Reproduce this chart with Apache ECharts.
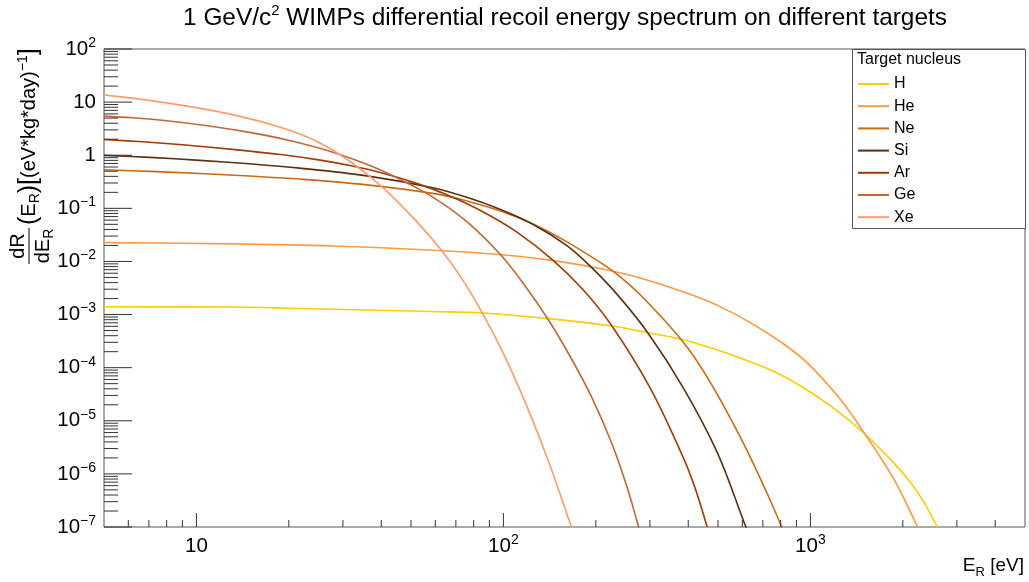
<!DOCTYPE html>
<html><head><meta charset="utf-8">
<script src="https://cdn.jsdelivr.net/npm/echarts@6/dist/echarts.min.js"></script>
<style>html,body{margin:0;padding:0;background:#fff;} #c{width:1029px;height:582px;}</style>
</head><body><div id="c"></div>
<script>
// ---- data ----
const names = ['H','He','Ne','Si','Ar','Ge','Xe'];
const hX  = [5, 13.1, 21.7, 35.9, 58.9, 85.7, 138.7, 226, 296, 382, 493, 637, 769, 927, 1169, 1476, 1862, 2118, 2333, 2593];
const hY  = [1.40e-3, 1.39e-3, 1.30e-3, 1.22e-3, 1.14e-3, 1.07e-3, 8.48e-4, 6.07e-4, 4.54e-4, 3.40e-4, 2.19e-4, 1.29e-4, 8.19e-5, 4.57e-5, 1.86e-5, 6.22e-6, 1.65e-6, 6.92e-7, 3.03e-7, 9.9e-8];
const heX = [5, 13.1, 27.8, 58.9, 97.4, 141.8, 206.6, 289.7, 405.7, 508, 637, 816, 977, 1251, 1487, 1862, 2230, 2250];
const heY = [2.26e-2, 2.14e-2, 1.95e-2, 1.63e-2, 1.35e-2, 1.06e-2, 7.34e-3, 4.59e-3, 2.40e-3, 1.41e-3, 7.06e-4, 2.82e-4, 1.23e-4, 2.54e-5, 6.25e-6, 8.3e-7, 1.03e-7, 9.3e-8];
const neX = [5, 7.05, 10.25, 14.9, 21.7, 35.9, 58.9, 76, 97.4, 124.7, 161, 206.6, 234.6, 278.6, 382, 461, 590, 723, 809];
const neY = [0.532, 0.497, 0.452, 0.405, 0.356, 0.277, 0.191, 0.138, 0.0897, 0.0506, 0.0234, 9.62e-3, 5.73e-3, 2.38e-3, 3.21e-4, 6.62e-5, 5.01e-6, 4.27e-7, 9.5e-8];
const siX = [5, 7.05, 10.25, 14.9, 21.7, 35.9, 58.9, 76, 97.4, 124.7, 161, 191.4, 234.6, 296, 385, 497, 613, 622];
const siY = [0.995, 0.912, 0.801, 0.689, 0.571, 0.408, 0.244, 0.161, 0.0962, 0.0503, 0.0199, 8.26e-3, 2.40e-3, 4.46e-4, 4.22e-5, 2.55e-6, 1.08e-7, 8.8e-8];
const arX = [5, 6.68, 9.02, 13.1, 19.1, 24.7, 31.6, 40.5, 52.2, 66.9, 85.7, 110.7, 145.2, 181.8, 226, 300.5, 385, 421.7, 461];
const arY = [1.98, 1.79, 1.57, 1.29, 1.02, 0.826, 0.640, 0.459, 0.295, 0.171, 0.0863, 0.0356, 0.0105, 2.92e-3, 6.04e-4, 4.16e-5, 2.05e-6, 5.28e-7, 9.96e-8];
const geX = [5, 6.2, 8.0, 11.0, 14.9, 20.1, 27.2, 35.9, 46.0, 58.9, 76.0, 97.4, 115.8, 138.7, 164.8, 194.5, 226, 252.9, 272.9, 276.7];
const geY = [5.44, 5.06, 4.46, 3.56, 2.69, 1.90, 1.19, 0.673, 0.352, 0.163, 0.0561, 0.0138, 3.94e-3, 8.7e-4, 1.64e-4, 2.67e-5, 3.62e-6, 5.6e-7, 1.23e-7, 9.1e-8];
const xeX = [5, 8.0, 13.1, 19.1, 24.7, 31.6, 40.5, 52.2, 63.0, 73.3, 85.7, 101.2, 119.4, 140.9, 164.8, 167.5];
const xeY = [13.7, 9.66, 5.81, 3.26, 1.82, 0.771, 0.246, 0.0561, 0.0159, 4.70e-3, 1.03e-3, 1.60e-4, 1.85e-5, 1.61e-6, 1.19e-7, 9.6e-8];
// axis tick values
const xTicks = [6,7,8,9,10,20,30,40,50,60,70,80,90,100,200,300,400,500,600,700,800,900,1000,2000,3000,4000];
const yDecades = [-7,-6,-5,-4,-3,-2,-1,0,1];
const yMult = [1,2,3,4,5,6,7,8,9];

const FONT = '"Liberation Sans", Arial, sans-serif';
const colors = ['#ffcc00','#ff9a40','#cc6a14','#5a3010','#a03c08','#c06838','#ff9c6c'];
const xsAll = [hX, heX, neX, siX, arX, geX, xeX];
const ysAll = [hY, heY, neY, siY, arY, geY, xeY];

const yTicks = [];
yDecades.forEach(e => yMult.forEach(m => yTicks.push(m * Math.pow(10, e))));
yTicks.push(100);

function isPow10(v){ const l = Math.log10(v); return Math.abs(l - Math.round(l)) < 1e-6; }
function powLabel(v){
  if (!isPow10(v)) return '';
  const e = Math.round(Math.log10(v));
  if (e === 0) return '{b|1}';
  if (e === 1) return '{b|10}';
  return '{b|10}{s|' + (e < 0 ? '\u2212' + (-e) : e) + '}';
}
const labRich = {
  b: {fontSize: 20.5, lineHeight: 26, verticalAlign: 'middle', fontFamily: FONT, color: '#000'},
  s: {fontSize: 14, lineHeight: 14, verticalAlign: 'top', fontFamily: FONT, color: '#000'}
};

const series = names.map((n, i) => ({
  name: n, type: 'line',
  data: xsAll[i].map((x, j) => [x, ysAll[i][j]]),
  showSymbol: false, symbol: 'none', smooth: 0.35,
  lineStyle: {color: colors[i], width: 1.6},
  itemStyle: {color: colors[i]},
  emphasis: {disabled: true}, z: 2
}));

series.push({
  type: 'custom', name: 'xticks', coordinateSystem: 'cartesian2d', silent: true, clip: false, z: 3,
  data: xTicks.map(v => [v, 1e-7]),
  renderItem: (params, api) => {
    const v = api.value(0);
    const p = api.coord([v, api.value(1)]);
    const len = isPow10(v) ? 14 : 7;
    return {type: 'line', shape: {x1: p[0], y1: p[1], x2: p[0], y2: p[1] - len}, style: {stroke: '#333', lineWidth: 1}};
  }
});
series.push({
  type: 'custom', name: 'yticks', coordinateSystem: 'cartesian2d', silent: true, clip: false, z: 3,
  data: yTicks.map(v => [5, v]),
  renderItem: (params, api) => {
    const v = api.value(1);
    const p = api.coord([api.value(0), v]);
    const len = isPow10(v) ? 28 : 14;
    return {type: 'line', shape: {x1: p[0], y1: p[1], x2: p[0] + len, y2: p[1]}, style: {stroke: '#333', lineWidth: 1}};
  }
});

const subRich = {
  a: {fontSize: 20, lineHeight: 26, verticalAlign: 'middle', fontFamily: FONT, color: '#000'},
  p: {fontSize: 25, lineHeight: 26, verticalAlign: 'middle', fontFamily: FONT, color: '#000'},
  s: {fontSize: 14, lineHeight: 14, verticalAlign: 'bottom', fontFamily: FONT, color: '#000'},
  u: {fontSize: 14, lineHeight: 14, verticalAlign: 'top', fontFamily: FONT, color: '#000'}
};
const xRich = {
  a: {fontSize: 19, lineHeight: 26, verticalAlign: 'middle', fontFamily: FONT, color: '#000'},
  s: {fontSize: 13, lineHeight: 13, verticalAlign: 'bottom', fontFamily: FONT, color: '#000'}
};

const chart = echarts.init(document.getElementById('c'));
chart.setOption({
  animation: false,
  backgroundColor: '#fff',
  textStyle: {fontFamily: FONT},
  grid: {left: 104, right: 4, top: 49, bottom: 55, show: true, borderColor: '#555', borderWidth: 1, containLabel: false},
  xAxis: {
    type: 'log', logBase: 10, min: 5, max: 5000,
    axisLine: {show: false}, axisTick: {show: false}, splitLine: {show: false},
    axisLabel: {formatter: powLabel, rich: labRich, margin: 6, color: '#000', showMinLabel: false, showMaxLabel: false}
  },
  yAxis: {
    type: 'log', logBase: 10, min: 1e-7, max: 100,
    axisLine: {show: false}, axisTick: {show: false}, splitLine: {show: false},
    axisLabel: {formatter: powLabel, rich: labRich, margin: 8, color: '#000'}
  },
  legend: {
    data: names, orient: 'vertical', left: 858, top: 76, padding: 0,
    icon: 'rect', itemWidth: 31, itemHeight: 2, itemGap: 6.2, selectedMode: false,
    textStyle: {fontSize: 16, color: '#000', fontFamily: FONT}, z: 6
  },
  graphic: [
    {type: 'rect', z: 4, shape: {x: 852.5, y: 49.5, width: 173, height: 179}, style: {fill: '#fff', stroke: '#555', lineWidth: 1}},
    {type: 'text', z: 6, x: 857, y: 60, style: {text: 'Target nucleus', fontSize: 16, fontFamily: FONT, fill: '#000', verticalAlign: 'middle', align: 'left'}},
    {type: 'text', z: 6, x: 565, y: 18, style: {
      text: '{t|1 GeV/c}{u|2}{t| WIMPs differential recoil energy spectrum on different targets}',
      align: 'center', verticalAlign: 'middle',
      rich: {t: {fontSize: 24.4, lineHeight: 30, verticalAlign: 'middle', fontFamily: FONT, color: '#000'},
             u: {fontSize: 15, lineHeight: 15, verticalAlign: 'top', fontFamily: FONT, color: '#000'}}
    }},
    {type: 'text', z: 6, x: 1024, y: 566, style: {
      text: '{a|E}{s|R}{a| [eV]}', align: 'right', verticalAlign: 'middle', rich: xRich
    }},
    {type: 'group', x: 29, y: 246, rotation: Math.PI / 2, z: 6, children: [
      {type: 'text', x: 0, y: -1, style: {text: 'dR', fontSize: 20, fontFamily: FONT, fill: '#000', align: 'center', verticalAlign: 'bottom'}},
      {type: 'line', shape: {x1: -18, y1: 0, x2: 18, y2: 0}, style: {stroke: '#000', lineWidth: 1}},
      {type: 'text', x: 0, y: 1, style: {text: '{a|dE}{s|R}', align: 'center', verticalAlign: 'top', rich: subRich}},
      {type: 'text', x: 21, y: 0, style: {text: '{p|(}{a|E}{s|R}{p|)}{p|[}{a|(eV*kg*day)}{u|\u22121}{p|]}', align: 'left', verticalAlign: 'middle', rich: subRich}}
    ]}
  ],
  series: series
});
</script>
</body></html>
